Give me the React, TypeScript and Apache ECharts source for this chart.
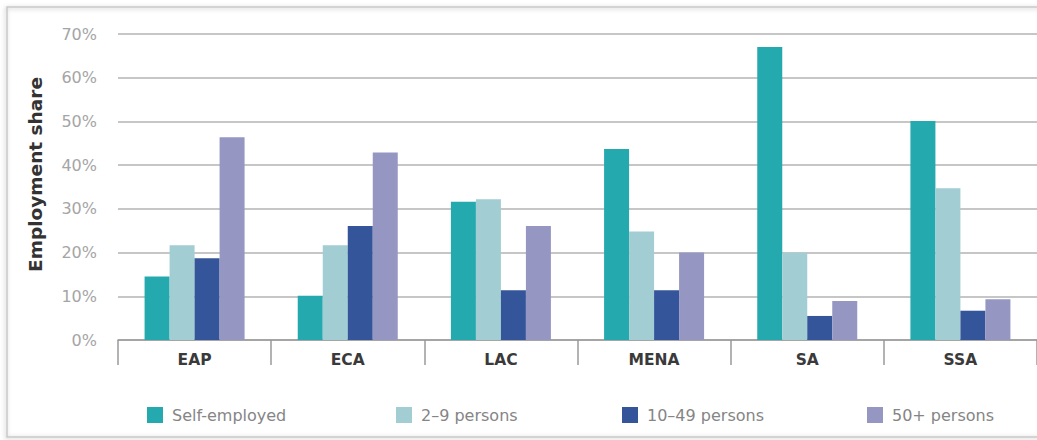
import React, { useEffect, useRef } from "react";
import * as echarts from "echarts";

const categories = ["EAP", "ECA", "LAC", "MENA", "SA", "SSA"];
const seriesNames = ["Self-employed", "2–9 persons", "10–49 persons", "50+ persons"];
const selfEmployed = [14.5, 10.1, 31.6, 43.7, 67.0, 50.1];
const persons2to9 = [21.7, 21.7, 32.2, 24.8, 20.0, 34.7];
const persons10to49 = [18.7, 26.1, 11.4, 11.4, 5.5, 6.7];
const persons50plus = [46.4, 42.9, 26.1, 20.0, 8.9, 9.3];
const yTicks = [0, 10, 20, 30, 40, 50, 60, 70];

const colors = ["#24a9ae", "#a1cdd3", "#35559a", "#9597c2"];
const legendLeft = [142, 391, 617, 862];

export default function App() {
  const ref = useRef<HTMLDivElement>(null);
  useEffect(() => {
    if (!ref.current) return;
    const chart = echarts.init(ref.current, null, { renderer: "svg" });
    const values = [selfEmployed, persons2to9, persons10to49, persons50plus];
    chart.setOption({
      animation: false,
      backgroundColor: "#ffffff",
      graphic: [
        {
          type: "rect",
          shape: { x: 7, y: 7, width: 1100, height: 430 },
          style: {
            fill: "none",
            stroke: "#c8c8c8",
            lineWidth: 1.5,
            shadowBlur: 4,
            shadowColor: "rgba(0,0,0,0.25)",
            shadowOffsetX: -1,
            shadowOffsetY: 1,
          },
          z: -10,
          silent: true,
        },
      ],
      grid: { left: 118, top: 34, width: 925, height: 306 },
      xAxis: {
        type: "category",
        data: categories,
        axisLine: { show: true, lineStyle: { color: "#9a9a9a", width: 1.5 } },
        axisTick: { show: true, length: 25, lineStyle: { color: "#9a9a9a", width: 1.5 } },
        axisLabel: {
          margin: 12,
          color: "#3a3a3a",
          fontWeight: "bold",
          fontSize: 15.5,
          fontFamily: "DejaVu Sans",
        },
      },
      yAxis: {
        type: "value",
        min: 0,
        max: 70,
        interval: 10,
        name: "Employment share",
        nameLocation: "middle",
        nameGap: 73,
        nameTextStyle: {
          color: "#333333",
          fontWeight: "bold",
          fontSize: 18.5,
          fontFamily: "DejaVu Sans",
          padding: [0, 0, 0, 25],
        },
        axisLine: { show: false },
        axisTick: { show: false },
        axisLabel: {
          margin: 21,
          color: "#a5a5a5",
          fontSize: 16,
          fontFamily: "DejaVu Sans",
          formatter: (v: number) => (yTicks.includes(v) ? v + "%" : ""),
        },
        splitLine: { lineStyle: { color: "#b3b3b3", width: 1.5 } },
      },
      legend: seriesNames.map((n, i) => ({
        data: [n],
        left: legendLeft[i],
        top: 402,
        icon: "rect",
        itemWidth: 16,
        itemHeight: 16,
        textStyle: {
          color: "#858585",
          fontSize: 16,
          fontFamily: "DejaVu Sans",
          padding: [0, 0, 0, 4],
        },
      })),
      series: seriesNames.map((n, i) => ({
        name: n,
        type: "bar",
        data: values[i],
        barWidth: 25,
        barGap: "0%",
        itemStyle: { color: colors[i] },
      })),
    });
    return () => chart.dispose();
  }, []);
  return (
    <div
      ref={ref}
      style={{ position: "fixed", left: 0, top: 0, width: 1037, height: 440 }}
    />
  );
}
